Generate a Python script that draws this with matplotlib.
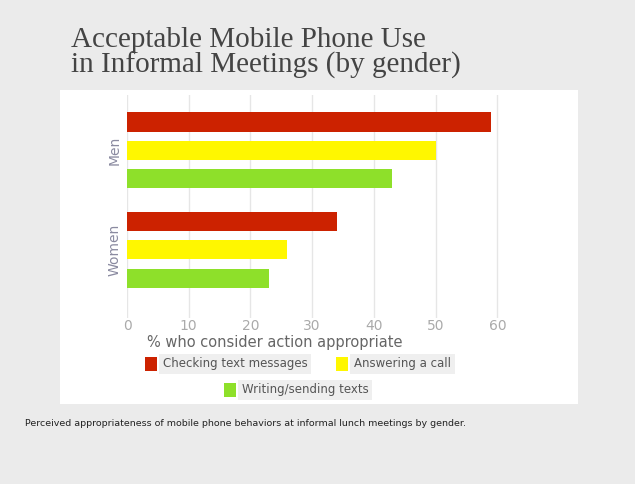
import matplotlib.pyplot as plt
from matplotlib.patches import Rectangle

groups = ["Men", "Women"]
series = ["Checking text messages", "Answering a call", "Writing/sending texts"]
values = {
    "Checking text messages": [59, 34],
    "Answering a call": [50, 26],
    "Writing/sending texts": [43, 23],
}
colors = ["#cc2200", "#fff700", "#8ee02a"]
xticks = [0, 10, 20, 30, 40, 50, 60]

W, H = 635, 484


def fx(px):
    return px / W


def fy(py):
    return 1 - py / H


fig = plt.figure(figsize=(W / 100, H / 100), dpi=100, facecolor="#ebebeb")

# white panel behind the chart
fig.patches.append(Rectangle((fx(60), fy(404)), fx(578) - fx(60), fy(90) - fy(404),
                             transform=fig.transFigure, facecolor="white",
                             edgecolor="none", zorder=-5))

fig.text(fx(71), fy(27), "Acceptable Mobile Phone Use\nin Informal Meetings (by gender)",
         family="Liberation Serif", fontsize=21, color="#444444",
         linespacing=0.92, va="top", ha="left")

ax = fig.add_axes([fx(127), fy(318), fx(522) - fx(127), fy(95) - fy(318)])
ax.set_facecolor("none")

group_step = 3.5
for i, name in enumerate(series):
    ys = [g * group_step + i for g in range(len(groups))]
    ax.barh(ys, values[name], height=0.67, color=colors[i], zorder=2)

ax.set_xlim(0, 64)
ax.set_ylim(2 * group_step - 0.1, -0.95)
ax.set_xticks(xticks)
ax.set_xticklabels([str(t) for t in xticks], color="#aaaaaa", fontsize=10)
ax.set_yticks([g * group_step + 1 for g in range(len(groups))])
ax.set_yticklabels(groups, rotation=90, va="center", color="#8a8aa0", fontsize=10)
ax.tick_params(axis="x", length=0, pad=1)
ax.tick_params(axis="y", length=0, pad=4)
ax.grid(axis="x", color="#e6e6e6", linewidth=1, zorder=0)
ax.set_axisbelow(True)
for s in ax.spines.values():
    s.set_visible(False)
ax.set_xlabel("% who consider action appropriate", fontsize=10.5, color="#666666")
ax.xaxis.set_label_coords(0.375, -0.075)

# legend entries with grey boxes
legend_pos = [(145, 364), (336, 364), (224, 390)]
for (x, y), name, c in zip(legend_pos, series, colors):
    fig.patches.append(Rectangle((fx(x), fy(y + 7)), fx(12), 14 / H,
                                 transform=fig.transFigure, facecolor=c,
                                 edgecolor="none", zorder=3))
    fig.text(fx(x + 18), fy(y), name, fontsize=8.5, color="#555555",
             va="center", ha="left",
             bbox=dict(boxstyle="square,pad=0.3", facecolor="#efefef", edgecolor="none"))

fig.text(fx(25), fy(424), "Perceived appropriateness of mobile phone behaviors at informal lunch meetings by gender.",
         fontsize=6.8, color="#222222", va="center", ha="left")

fig.savefig("out.png", dpi=100, facecolor=fig.get_facecolor())
